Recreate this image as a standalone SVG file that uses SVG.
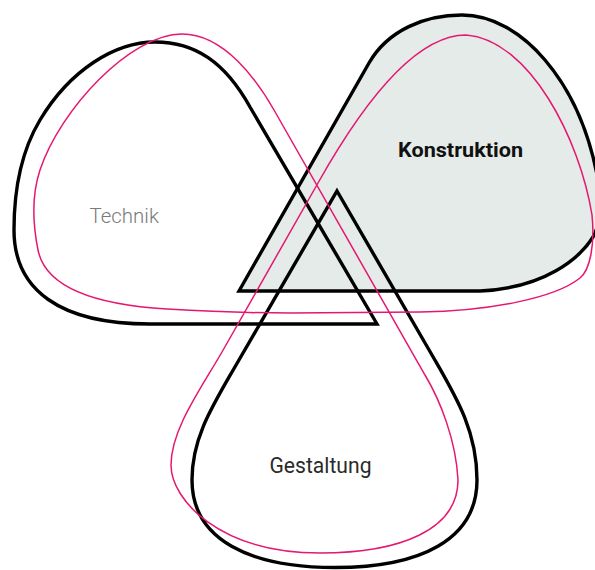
<svg xmlns="http://www.w3.org/2000/svg" width="595" height="570" viewBox="0 0 595 570">
  <style>
    .blk { fill: none; stroke: #000000; stroke-width: 3.4; stroke-linejoin: miter; stroke-miterlimit: 10; }
    .fillK { fill: #e4ebe8; }
    .pink { fill: none; stroke: #e5176f; stroke-width: 1.5; }
    .lbl { font-family: Roboto, "Liberation Sans", sans-serif; }
  </style>
  <rect x="0" y="0" width="595" height="570" fill="#ffffff"/>
  <g id="konstruktion">
    <path class="blk fillK" d="M239,291 L369,63 C388,30 425,15 462,15 C520,15 580,80 598,180 C602,200 602,220 593,237 C580,258 545,288 480,291 Z"/>
    <text class="lbl" x="398" y="157.3" font-size="20.5" font-weight="700" fill="#111111" textLength="125" lengthAdjust="spacingAndGlyphs">Konstruktion</text>
  </g>
  <g id="technik">
    <path class="blk" d="M377,324 L250,107 C225,62 195,42 155,42 C115,42 70,70 40,120 C22,150 14,190 14,230 C14,290 60,324 150,324 Z"/>
    <text class="lbl" x="89.5" y="223.3" font-size="21" font-weight="300" fill="#7a7a7a" textLength="69.5" lengthAdjust="spacingAndGlyphs">Technik</text>
  </g>
  <g id="gestaltung">
    <path class="blk" d="M337,191 L432,355 C455,395 477,430 477,480 C477,540 420,567.5 335,567.5 C250,567.5 192,540 192,480 C192,440 210,410 232,372 Z"/>
    <text class="lbl" x="269.5" y="473.3" font-size="22.5" font-weight="400" fill="#2a2a2a" textLength="102" lengthAdjust="spacingAndGlyphs">Gestaltung</text>
  </g>
  <g id="connectors">
    <path class="pink" d="M182,34 C130,34 60,110 40,170 C33,191 32,220 38,250 C46,290 100,305 167,309 C200,311 240,313 290,313 L420,312 C490,311 555,298 580,278 C590,270 595,245 592,215 C580,140 530,40 466,35 C416,35 363,103 318,183 L222,352 C200,390 171,430 171,465 C171,500 220,553 320,553 C400,553 458,530 458,480 C456,440 440,400 425,375 L274,110 C258,82 225,34 182,34 Z"/>
  </g>
</svg>
